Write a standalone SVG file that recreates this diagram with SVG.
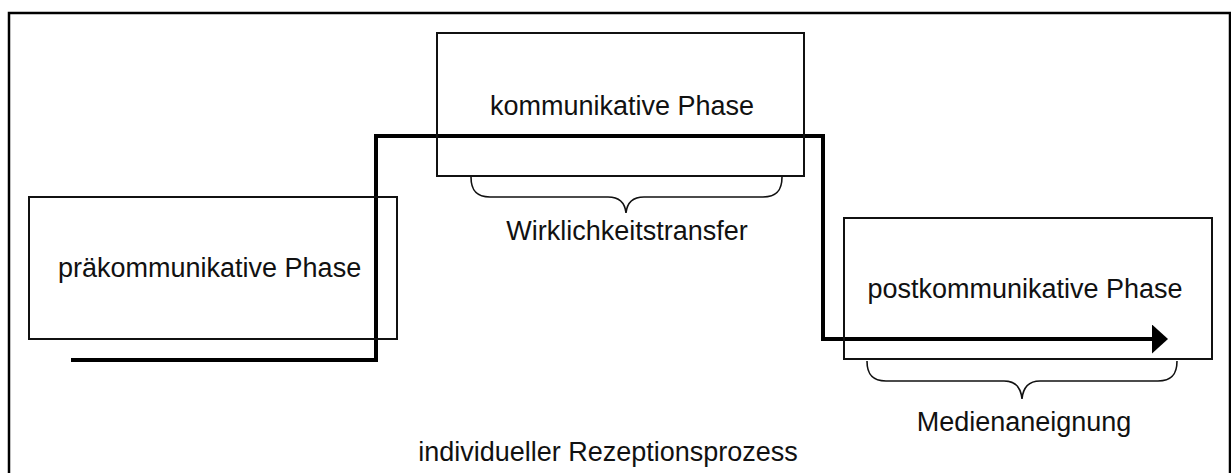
<svg xmlns="http://www.w3.org/2000/svg" width="1231" height="473" viewBox="0 0 1231 473">
  <style>
    .frame { fill: none; stroke: #000; stroke-width: 2.5; }
    .box { fill: none; stroke: #111; stroke-width: 2; }
    .flow { fill: none; stroke: #000; stroke-width: 4; stroke-linejoin: miter; }
    .brace { fill: none; stroke: #111; stroke-width: 1.6; }
    .lbl { font-family: "Liberation Sans", Arial, sans-serif; font-size: 27px; fill: #111; }
  </style>
  <defs>
    <marker id="arrow" viewBox="0 0 16 29" refX="0" refY="14.5" markerWidth="16" markerHeight="29" markerUnits="userSpaceOnUse" orient="auto">
      <polygon points="0,0 16,14.5 0,29" fill="#000"/>
    </marker>
  </defs>
  <rect width="1231" height="473" fill="#fff"/>

  <!-- outer frame, open at the bottom edge -->
  <rect class="frame" x="9" y="13" width="1221" height="480"/>

  <!-- process line running through the three phases -->
  <g id="connectors">
    <path class="flow" d="M71,360 H376 V136 H823 V339 H1152" marker-end="url(#arrow)"/>
  </g>

  <g id="pre-phase">
    <rect class="box" x="29" y="197" width="368" height="142"/>
    <text class="lbl" x="58" y="277">präkommunikative Phase</text>
  </g>

  <g id="comm-phase">
    <rect class="box" x="437" y="33" width="367" height="143"/>
    <text class="lbl" x="622" y="115" text-anchor="middle">kommunikative Phase</text>
  </g>

  <g id="post-phase">
    <rect class="box" x="844" y="218" width="368" height="141"/>
    <text class="lbl" x="1025" y="298" text-anchor="middle">postkommunikative Phase</text>
  </g>

  <g id="reality-transfer">
    <path class="brace" d="M471,177 C471,190 476,197 490,197 H608 C620,197 625,203 626,213 C627,203 632,197 644,197 H763 C777,197 782,190 782,177"/>
    <text class="lbl" x="627" y="240" text-anchor="middle">Wirklichkeitstransfer</text>
  </g>

  <g id="media-appropriation">
    <path class="brace" d="M867,361 C867,374 872,381 886,381 H1004 C1016,381 1021,388 1022,399 C1023,388 1028,381 1040,381 H1158 C1172,381 1177,374 1177,361"/>
    <text class="lbl" x="1024" y="431" text-anchor="middle">Medienaneignung</text>
  </g>

  <g id="process-label">
    <text class="lbl" x="608" y="461" text-anchor="middle">individueller Rezeptionsprozess</text>
  </g>
</svg>
